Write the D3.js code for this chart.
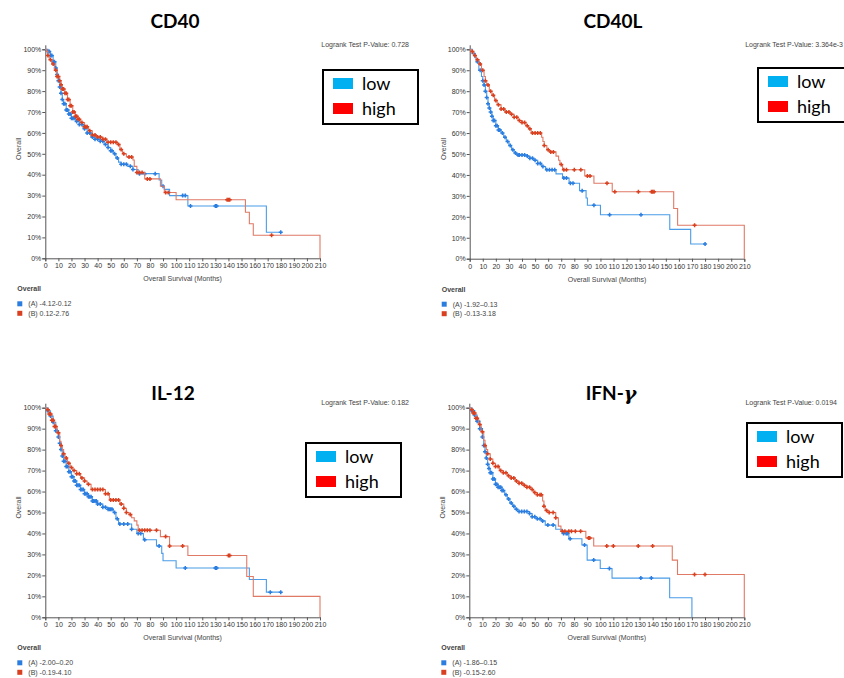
<!DOCTYPE html>
<html>
<head>
<meta charset="utf-8">
<script src="https://cdn.jsdelivr.net/npm/d3@7"></script>
<style>
  body { margin: 0; background: #fff; }
  svg text { font-family: "Liberation Sans", Arial, sans-serif; }
  .title { font-family: Lato, "Open Sans", sans-serif; font-weight: 700; font-size: 19px; fill: #000; }
  .tick text { font-size: 7px; fill: #333; }
  .tick line, .domain { stroke: #555; }
  .small { font-size: 7px; fill: #444; }
  .lg { font-family: Lato, "Open Sans", sans-serif; font-size: 18px; fill: #000; }
</style>
</head>
<body>
<svg id="chart" width="844" height="678"></svg>
<script>
// Kaplan-Meier curves: [month, survival after the drop]
var xTicks = d3.range(0, 211, 10);
var yTicks = [0, 0.1, 0.2, 0.3, 0.4, 0.5, 0.6, 0.7, 0.8, 0.9, 1];

// CD40
var cd40Low = [[0,1],[2,0.99],[4,0.97],[6,0.94],[8,0.91],[9,0.88],[10,0.85],[11,0.82],[12,0.79],[13,0.76],[14,0.74],[16,0.71],[18,0.69],[20,0.67],[23,0.655],[26,0.64],[29,0.62],[32,0.6],[35,0.58],[38,0.57],[42,0.56],[45,0.545],[48,0.53],[50,0.515],[52,0.5],[54,0.48],[56,0.46],[58,0.45],[63,0.44],[67,0.425],[71,0.405],[87,0.375],[89,0.345],[91,0.33],[95,0.30],[109,0.25],[169,0.125],[180,0.125]];
var cd40High = [[0,1],[1,0.99],[2,0.97],[3,0.95],[5,0.93],[7,0.9],[9,0.87],[11,0.85],[12,0.83],[13,0.81],[15,0.79],[17,0.76],[19,0.73],[21,0.7],[23,0.68],[25,0.665],[27,0.65],[30,0.63],[33,0.61],[36,0.59],[39,0.58],[44,0.57],[47,0.555],[55,0.545],[57,0.52],[59,0.5],[62,0.485],[67,0.47],[68,0.44],[70,0.41],[76,0.38],[88,0.345],[91,0.315],[100,0.28],[153,0.22],[156,0.165],[159,0.11],[210,0]];
var cd40LowCens = [2,3,4,5,6,7,8,9,10,11,12,13,14,15,16,17,18,19,20,21,22,24,26,28,30,32,34,36,38,40,42,44,46,48,50,51,53,55,58,60,62,65,67,72,76,84,90,105,107,111,130,131,180];
var cd40HighCens = [2,4,6,8,9,10,11,12,13,14,15,16,17,18,19,20,21,22,23,24,25,26,28,30,31,32,34,36,38,40,42,44,46,48,50,52,54,56,58,60,64,66,70,72,74,78,80,92,94,139,140,141,173];

// CD40L
var cd40lLow = [[0,1],[2,0.98],[4,0.96],[5,0.94],[7,0.9],[9,0.87],[10,0.85],[11,0.83],[12,0.8],[13,0.77],[14,0.74],[15,0.72],[16,0.7],[17,0.68],[18,0.66],[20,0.635],[22,0.615],[24,0.6],[26,0.58],[28,0.56],[30,0.54],[32,0.52],[34,0.505],[36,0.495],[44,0.49],[46,0.48],[49,0.47],[52,0.455],[55,0.44],[58,0.425],[66,0.405],[71,0.385],[76,0.36],[84,0.325],[89,0.29],[90,0.255],[100,0.21],[153,0.14],[169,0.07],[180,0.07]];
var cd40lHigh = [[0,1],[1,0.99],[3,0.97],[5,0.95],[7,0.93],[9,0.9],[11,0.87],[12,0.85],[13,0.83],[15,0.8],[17,0.78],[19,0.755],[21,0.735],[24,0.715],[27,0.7],[31,0.69],[34,0.675],[37,0.66],[40,0.65],[43,0.635],[45,0.62],[47,0.6],[55,0.58],[56,0.56],[57,0.54],[59,0.52],[61,0.51],[66,0.49],[68,0.47],[69,0.45],[71,0.425],[88,0.395],[95,0.36],[109,0.32],[156,0.24],[159,0.16],[210,0]];
var cd40lLowCens = [3,6,8,10,11,12,13,14,15,16,17,18,19,20,21,22,23,25,27,29,31,33,35,37,38,40,42,44,46,48,50,52,54,56,59,61,63,65,72,74,77,79,86,95,107,131,180];
var cd40lHighCens = [2,4,6,8,10,12,14,16,18,20,22,24,26,28,30,32,34,36,38,40,42,44,46,48,50,52,54,57,60,62,64,70,72,74,80,85,90,92,105,111,129,139,140,141,172];

// IL-12
var il12Low = [[0,1],[2,0.985],[4,0.96],[6,0.93],[8,0.89],[10,0.86],[11,0.83],[12,0.8],[13,0.77],[14,0.745],[16,0.72],[18,0.695],[20,0.67],[22,0.65],[24,0.63],[27,0.61],[30,0.59],[33,0.575],[36,0.555],[40,0.54],[44,0.525],[48,0.515],[52,0.5],[54,0.47],[56,0.445],[66,0.42],[70,0.40],[75,0.37],[85,0.34],[89,0.305],[90,0.27],[100,0.235],[156,0.18],[169,0.12],[180,0.12]];
var il12High = [[0,1],[1,0.99],[3,0.97],[5,0.94],[7,0.91],[9,0.88],[11,0.84],[12,0.82],[13,0.8],[14,0.78],[15,0.76],[17,0.735],[19,0.715],[21,0.7],[24,0.685],[27,0.665],[30,0.65],[32,0.635],[35,0.61],[46,0.59],[49,0.56],[57,0.54],[60,0.52],[62,0.5],[64,0.49],[66,0.475],[68,0.46],[70,0.44],[71,0.415],[88,0.385],[95,0.34],[109,0.295],[154,0.195],[159,0.10],[210,0]];
var il12LowCens = [2,4,6,8,9,10,11,12,13,14,15,16,17,18,19,20,21,22,23,24,25,26,27,28,29,30,31,32,33,34,35,36,37,38,39,40,42,44,46,48,49,50,51,53,55,57,60,63,66,71,73,76,87,107,130,131,172,180];
var il12HighCens = [2,3,4,5,6,7,8,10,12,14,16,18,20,22,24,26,28,30,33,36,38,40,42,44,46,48,50,52,54,56,58,60,62,65,72,74,76,78,80,85,92,95,105,140,141];

// IFN-gamma
var ifngLow = [[0,1],[2,0.985],[4,0.965],[6,0.935],[8,0.9],[10,0.86],[11,0.82],[12,0.79],[13,0.76],[14,0.73],[15,0.71],[16,0.69],[18,0.66],[20,0.635],[22,0.62],[25,0.605],[27,0.585],[29,0.565],[31,0.545],[33,0.53],[35,0.515],[37,0.505],[46,0.495],[48,0.48],[51,0.47],[55,0.46],[58,0.44],[66,0.42],[71,0.40],[76,0.375],[86,0.345],[90,0.273],[100,0.233],[109,0.187],[153,0.093],[170,0]];
var ifngHigh = [[0,1],[1,0.99],[3,0.975],[5,0.95],[7,0.92],[9,0.885],[11,0.845],[12,0.82],[13,0.8],[14,0.78],[16,0.755],[18,0.735],[20,0.72],[23,0.7],[26,0.69],[29,0.675],[32,0.665],[35,0.65],[38,0.64],[41,0.63],[44,0.62],[47,0.61],[49,0.595],[52,0.585],[56,0.555],[57,0.53],[58,0.51],[60,0.50],[66,0.475],[68,0.435],[70,0.41],[89,0.378],[95,0.34],[155,0.273],[159,0.204],[210,0]];
var ifngLowCens = [2,3,4,6,7,8,9,10,11,12,13,14,15,16,17,18,19,20,21,22,23,24,25,26,28,30,32,34,36,38,40,42,44,46,48,50,52,54,56,60,64,72,74,75,77,88,95,107,131,139];
var ifngHighCens = [2,3,4,5,6,8,10,12,14,16,18,20,22,24,26,28,30,32,34,36,38,40,42,44,46,48,50,52,54,55,57,59,61,64,66,71,73,76,78,81,85,91,92,105,110,129,140,172,180];

var titles = ["CD40", "CD40L", "IL-12", "IFN-γ"];
var pValues = ["0.728", "3.364e-3", "0.182", "0.0194"];
var rangesA = ["-4.12-0.12", "-1.92–0.13", "-2.00–0.20", "-1.86–0.15"];
var rangesB = ["0.12-2.76", "-0.13-3.18", "-0.19-4.10", "-0.15-2.60"];
var groupNames = ["low", "high"];

var lowCol = "#2b7de0", highCol = "#d9401f";
var lowLine = "#4a9ce8", highLine = "#e07a66";

var svg = d3.select("#chart");
svg.append("rect").attr("width", 844).attr("height", 678).attr("fill", "#fff");

// layout of the four panels
var layout = [
  { left: 45.3, top: 49.3, w: 274.7, h: 209, titleX: 175, titleY: 28, pRight: 409, pY: 46.5, box: [323, 70] },
  { left: 469.7, top: 49.3, w: 274.6, h: 209.4, titleX: 613, titleY: 28, pRight: 843, pY: 46.5, box: [758, 68] },
  { left: 45.3, top: 407.7, w: 274.7, h: 209.6, titleX: 173, titleY: 400, pRight: 409, pY: 405, box: [306, 443] },
  { left: 469.3, top: 407.7, w: 275, h: 209.6, titleX: 611, titleY: 400, pRight: 837, pY: 405, box: [747, 423] }
];
var curves = [
  [cd40Low, cd40High, cd40LowCens, cd40HighCens],
  [cd40lLow, cd40lHigh, cd40lLowCens, cd40lHighCens],
  [il12Low, il12High, il12LowCens, il12HighCens],
  [ifngLow, ifngHigh, ifngLowCens, ifngHighCens]
];

function survAt(steps, t) {
  var i = d3.bisector(d => d[0]).right(steps, t) - 1;
  return steps[Math.max(i, 0)][1];
}

layout.forEach(function (L, k) {
  var g = svg.append("g").attr("transform", "translate(" + L.left + "," + L.top + ")");
  var x = d3.scaleLinear().domain([0, 210]).range([0, L.w]);
  var y = d3.scaleLinear().domain([0, 1]).range([L.h, 0]);

  g.append("g").attr("transform", "translate(0," + L.h + ")")
    .call(d3.axisBottom(x).tickValues(xTicks).tickSize(3).tickPadding(2));
  g.append("g")
    .call(d3.axisLeft(y).tickValues(yTicks).tickSize(3).tickPadding(1).tickFormat(d3.format(".0%")));
  // y axis line reaches a bit above the 100% tick
  g.append("line").attr("x1", 0.5).attr("x2", 0.5).attr("y1", -4).attr("y2", 0).attr("stroke", "#555");

  // title
  var t = svg.append("text").attr("class", "title").attr("x", L.titleX).attr("y", L.titleY)
    .attr("text-anchor", "middle");
  if (k === 3) {
    t.append("tspan").text("IFN-");
    t.append("tspan").attr("font-style", "italic").attr("font-family", "'DejaVu Serif', serif").text("γ");
  } else {
    t.text(titles[k]);
  }

  svg.append("text").attr("class", "small").attr("x", L.pRight).attr("y", L.pY)
    .attr("text-anchor", "end").text("Logrank Test P-Value: " + pValues[k]);

  // axis labels
  g.append("text").attr("class", "small").attr("x", L.w / 2).attr("y", L.h + 23)
    .attr("text-anchor", "middle").text("Overall Survival (Months)");
  g.append("text").attr("class", "small").attr("transform", "rotate(-90)")
    .attr("x", -L.h / 2 + 5).attr("y", -24).attr("text-anchor", "middle").text("Overall");

  var line = d3.line().x(d => x(d[0])).y(d => y(d[1])).curve(d3.curveStepAfter);
  var c = curves[k];
  [[c[0], c[2], lowLine, lowCol], [c[1], c[3], highLine, highCol]].forEach(function (s) {
    g.append("path").datum(s[0]).attr("d", line).attr("fill", "none")
      .attr("stroke", s[2]).attr("stroke-width", 1.1);
    g.selectAll(null).data(s[1]).join("path")
      .attr("transform", d => "translate(" + x(d) + "," + y(survAt(s[0], d)) + ")")
      .attr("d", "M-2,0H2M0,-2V2")
      .attr("stroke", s[3]).attr("stroke-width", 1.5);
  });

  // bottom group legend
  var lx = L.left - 28, ly = L.top + L.h + 33;
  svg.append("text").attr("class", "small").attr("font-weight", "bold").attr("fill", "#333")
    .attr("x", lx).attr("y", ly).text("Overall");
  [["(A) " + rangesA[k], lowCol], ["(B) " + rangesB[k], highCol]].forEach(function (it, i) {
    svg.append("rect").attr("x", lx).attr("y", ly + 10 + i * 9.5).attr("width", 5).attr("height", 5).attr("fill", it[1]);
    svg.append("text").attr("class", "small").attr("x", lx + 11).attr("y", ly + 15 + i * 9.5).text(it[0]);
  });

  // boxed low/high legend
  var b = svg.append("g").attr("transform", "translate(" + L.box[0] + "," + L.box[1] + ")");
  b.append("rect").attr("width", 95).attr("height", 54).attr("fill", "#fff")
    .attr("stroke", "#000").attr("stroke-width", 2);
  [["#00b0f0"], ["#ff0000"]].forEach(function (cc, i) {
    b.append("rect").attr("x", 10).attr("y", 8 + i * 25).attr("width", 20).attr("height", 11).attr("fill", cc[0]);
    b.append("text").attr("class", "lg").attr("x", 39).attr("y", 20 + i * 25).text(groupNames[i]);
  });
});
</script>
</body>
</html>
